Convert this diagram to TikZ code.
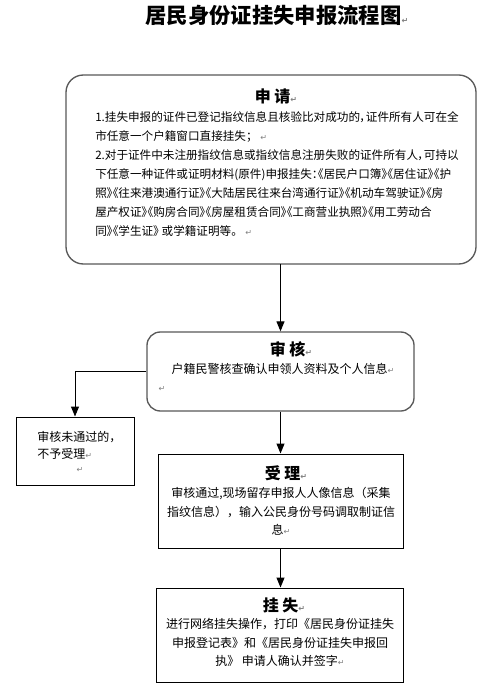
\documentclass[tikz,border=0pt]{standalone}
\usepackage{fontspec}
\setmainfont{Noto Sans CJK SC}
\newfontfamily\cjkp[RawFeature=+palt]{Noto Sans CJK SC}
\newfontfamily\dvs{DejaVu Sans}
\usetikzlibrary{arrows.meta}
\newcommand\rmk{{\dvs\fontsize{6pt}{6pt}\selectfont\textcolor{gray}{↵}}}
\newcommand\fwp[1]{{\rmfamily #1}}
\begin{document}
\begin{tikzpicture}[x=0.75pt,y=-0.75pt,
  roundbox/.style={draw=black!65,line width=1pt},
  sqbox/.style={draw=black,line width=0.75pt},
  arr/.style={draw=black,line width=0.75pt,-{Triangle[length=7.5pt,width=6pt]}},
  boxtitle/.style={inner sep=0pt,font=\bfseries\fontsize{12pt}{14pt}\selectfont},
  body/.style={inner sep=0pt,font=\fontsize{9pt}{13.9pt}\selectfont},
  bodyp/.style={inner sep=0pt,font=\cjkp\fontsize{8.7pt}{14.25pt}\selectfont}]
\useasboundingbox (0,0) rectangle (494,698);
\fill[white] (0,0) rectangle (494,698);
% title
\node[inner sep=0pt,font=\bfseries\fontsize{16pt}{18pt}\selectfont] (title) at (277,15) {居民身份证挂失申报流程图\rmk};
% box 1
\draw[roundbox,rounded corners=13pt] (66,75) rectangle (476,264);
\coordinate (b1s) at (279,264);
\node[boxtitle] (t1) at (276,96) {申\ 请\rmk};
\node[bodyp,anchor=north west,align=left] (p1) at (95,111) {1.挂失申报的证件已登记指纹信息且核验比对成功的，证件所有人可在全\\
市任意一个户籍窗口直接挂失\fwp{；}\ \rmk\\
2.对于证件中未注册指纹信息或指纹信息注册失败的证件所有人，可持以\\
下任意一种证件或证明材料(原件)申报挂失：《居民户口簿》《居住证》《护\\
照》《往来港澳通行证》《大陆居民往来台湾通行证》《机动车驾驶证》《房\\
屋产权证》《购房合同》《房屋租赁合同》《工商营业执照》《用工劳动合\\
同》《学生证》\ 或学籍证明等\fwp{。}\ \rmk};
% box 2
\node[roundbox,rounded corners=10pt,minimum width=267*0.75pt,minimum height=79*0.75pt,inner sep=0pt] (b2) at (280.5,371.5) {};
\node[boxtitle] (t2) at (291,349) {审\ 核\rmk};
\node[body] (p2) at (283,369) {户籍民警核查确认申领人资料及个人信息\rmk};
\node[inner sep=0pt] (r2) at (162,389) {\rmk};
% box 3
\node[sqbox,minimum width=118*0.75pt,minimum height=68*0.75pt,inner sep=0pt] (b3) at (75,451) {};
\node[body,anchor=west] (p3a) at (37,437) {审核未通过的，};
\node[body,anchor=west] (p3b) at (37,454) {不予受理\rmk};
\node[inner sep=0pt] (r3) at (80,470) {\rmk};
% box 4
\node[sqbox,minimum width=245*0.75pt,minimum height=94*0.75pt,inner sep=0pt] (b4) at (280.5,501) {};
\node[boxtitle] (t4) at (286,473) {受\ 理\rmk};
\node[body,align=center,anchor=north] (p4) at (281,487) {审核通过,现场留存申报人人像信息（采集\\
指纹信息），输入公民身份号码调取制证信\\
息\rmk};
% box 5
\node[sqbox,minimum width=247*0.75pt,minimum height=94*0.75pt,inner sep=0pt] (b5) at (279.5,635) {};
\node[boxtitle] (t5) at (284,605) {挂\ 失\rmk};
\node[body,align=center,anchor=north] (p5) at (280,618) {进行网络挂失操作，打印《居民身份证挂失\\
申报登记表》和《居民身份证挂失申报回\\
执》\ 申请人确认并签字\rmk};
% connectors
\draw[arr] (b2.north |- b1s) -- (b2.north);
\draw[arr] (b2.west) -| (b3.north);
\draw[arr] (b2.south) -- (b4.north);
\draw[arr] (b4.south) -- (b4.south |- b5.north);
\end{tikzpicture}
\end{document}
